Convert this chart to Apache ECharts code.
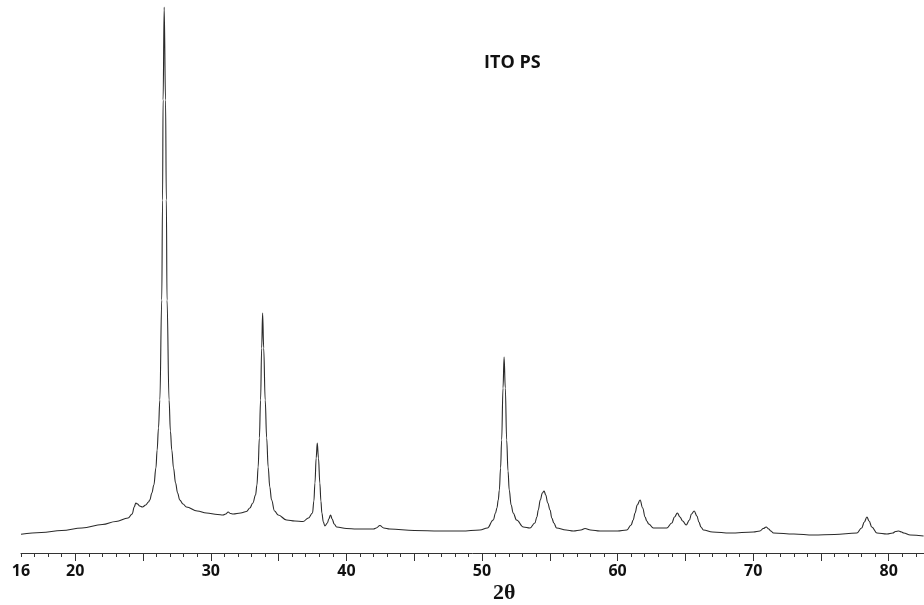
<!DOCTYPE html>
<html>
<head>
<meta charset="utf-8">
<script src="https://cdn.jsdelivr.net/npm/echarts@6/dist/echarts.min.js"></script>
<style>html,body{margin:0;padding:0;background:#fff;}#c{width:924px;height:605px;}</style>
</head>
<body>
<div id="c"></div>
<script>
const twoTheta = [16.0,17.5,19.0,20.5,22.0,23.0,23.9,24.2,24.35,24.47,24.6,24.75,24.96,25.2,25.4,25.5,25.65,25.8,25.95,26.04,26.14,26.24,26.38,26.44,26.48,26.56,26.66,26.72,26.77,26.92,27.02,27.12,27.25,27.4,27.55,27.71,27.95,28.2,29.0,29.68,30.5,30.9,31.1,31.28,31.45,31.65,32.2,32.63,32.88,33.1,33.3,33.4,33.49,33.58,33.67,33.75,33.82,33.9,34.01,34.12,34.23,34.35,34.48,34.7,34.97,35.59,36.2,36.8,37.2,37.5,37.6,37.68,37.77,37.85,37.94,38.04,38.12,38.19,38.3,38.41,38.6,38.7,38.83,38.95,39.1,39.28,40.0,40.75,42.0,42.2,42.47,42.75,43.2,45.0,46.9,48.5,49.85,50.4,50.83,51.0,51.1,51.2,51.28,51.37,51.45,51.55,51.63,51.72,51.82,51.92,52.01,52.15,52.3,52.55,53.05,53.54,53.9,54.05,54.15,54.3,54.45,54.58,54.7,54.85,55.02,55.15,55.3,55.5,56.2,56.74,57.3,57.6,58.0,58.71,60.0,60.68,61.0,61.15,61.29,61.45,61.66,61.85,62.03,62.15,62.3,62.64,63.63,64.0,64.2,64.41,64.6,64.8,65.06,65.3,65.45,65.65,65.85,66.0,66.15,66.33,67.0,68.3,70.02,70.5,70.75,70.96,71.15,71.3,71.5,73.0,74.45,76.0,77.65,78.0,78.2,78.39,78.55,78.75,79.13,79.87,80.3,80.5,80.73,80.95,81.1,81.59,82.57];
const intensity = [18.7,20.5,22.5,25,28.5,31.5,35,39,46,50,49,47,46,48,51,53,60,68,85,103,125,153,253,353,453,546,453,353,253,153,122,103,85,70,60,53,49,46,42,40,38.5,38,39,41,39.5,39,40,41.5,45,50,58,68,86,115,153,205,240,205,153,115,86,66,53,42,38,33,32,31.5,35,40,52,70,95,110,95,70,52,40,31,27,30,34,38,34,29,26,24.5,24,24,25,27.5,25,24,22.5,22,22,23,25,33,40,45,53,63,85,113,165,196,165,113,82,63,48,40,33,26,25,30,36,43,53,60,62,58,50,43,35,30,25,23,22,23,24.5,23,22,22,23,28,33,40,48,53,45,36,32,29,25,25,30,36,40,36,32,28,33,39,42,37,31,26,23,21,20,21,22,24.5,26,24,22,20,19,18,18.5,20,25,31,36,32,26,20,19,20,21.5,22,21,20,18,17];
const labelTicks = [16,20,30,40,50,60,70,80];
const majorTicks = [20,25,30,35,40,45,50,55,60,65,70,75,80];
const minorTicks = [];
for (let v = 16; v <= 82; v++) minorTicks.push(v);
const titleText = 'ITO PS';
const axisName = '2θ';

const data = twoTheta.map((x, i) => [x, intensity[i]]);
const chart = echarts.init(document.getElementById('c'), null, {renderer: 'canvas'});
chart.setOption({
  animation: false,
  backgroundColor: '#fff',
  grid: {left: 21, right: 0, top: 0, bottom: 52},
  xAxis: [{
    type: 'value', min: 16, max: 82.6, position: 'bottom',
    axisLine: {show: true, lineStyle: {color: '#333', width: 1}},
    axisTick: {show: true, customValues: minorTicks, length: 4, lineStyle: {color: '#333', width: 1}},
    axisLabel: {show: true, customValues: labelTicks, margin: 10, color: '#111', fontSize: 16, fontWeight: 'bold', fontFamily: 'Open Sans'},
    splitLine: {show: false}
  }, {
    type: 'value', min: 16, max: 82.6, position: 'bottom', offset: 0,
    axisLine: {show: false},
    axisTick: {show: true, customValues: majorTicks, length: 8, lineStyle: {color: '#333', width: 1}},
    axisLabel: {show: false},
    splitLine: {show: false}
  }],
  yAxis: {type: 'value', min: 0, max: 553, show: false},
  graphic: [
    {type: 'text', left: 484, top: 54, style: {text: titleText, font: 'bold 18px "Open Sans"', fill: '#111'}},
    {type: 'text', left: 493, top: 582, style: {text: axisName, font: 'bold 22px "Liberation Serif"', fill: '#111'}}
  ],
  series: [{
    type: 'line', xAxisIndex: 0, data: data, showSymbol: false, symbol: 'none',
    smooth: 0.4, smoothMonotone: 'x',
    lineStyle: {color: '#2a2a2a', width: 1.1}
  }]
});
</script>
</body>
</html>
